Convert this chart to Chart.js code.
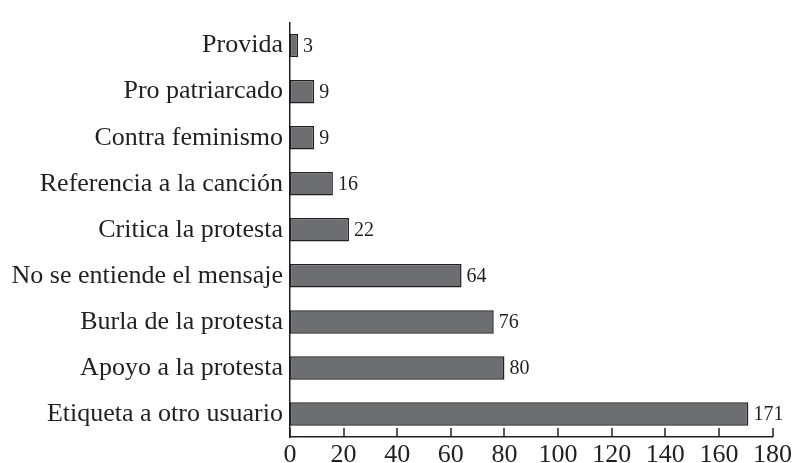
<!DOCTYPE html>
<html>
<head>
<meta charset="utf-8">
<script src="https://cdn.jsdelivr.net/npm/chart.js@4/dist/chart.umd.min.js"></script>
<style>
  html, body { margin: 0; padding: 0; background: #fff; }
  #wrap { width: 797px; height: 463px; }
</style>
</head>
<body>
<div id="wrap"><canvas id="grafico"></canvas></div>
<script>
// Categorías y valores (de arriba hacia abajo)
const categorias = [
  "Provida",
  "Pro patriarcado",
  "Contra feminismo",
  "Referencia a la canción",
  "Critica la protesta",
  "No se entiende el mensaje",
  "Burla de la protesta",
  "Apoyo a la protesta",
  "Etiqueta a otro usuario"
];
const valores = [3, 9, 9, 16, 22, 64, 76, 80, 171];
const ejeMin = 0;
const ejeMax = 180;
const ejePaso = 20;

const negro = "#231f20";
const serif = "'Liberation Serif', 'DejaVu Serif', serif";

// Etiquetas de valor al final de cada barra
const etiquetasValor = {
  id: "etiquetasValor",
  afterDatasetsDraw(chart) {
    const ctx = chart.ctx;
    const meta = chart.getDatasetMeta(0);
    ctx.save();
    ctx.font = "20px " + serif;
    ctx.fillStyle = negro;
    ctx.textAlign = "left";
    ctx.textBaseline = "middle";
    meta.data.forEach((bar, i) => {
      ctx.fillText(String(valores[i]), bar.x + 5, bar.y + 1);
    });
    ctx.restore();
  }
};

// Marcas del eje X hacia adentro
const marcasInternas = {
  id: "marcasInternas",
  afterDraw(chart) {
    const x = chart.scales.x;
    const ctx = chart.ctx;
    const base = chart.chartArea.bottom;
    ctx.save();
    ctx.strokeStyle = negro;
    ctx.lineWidth = 1.5;
    x.ticks.forEach(t => {
      const px = Math.round(x.getPixelForValue(t.value));
      ctx.beginPath();
      ctx.moveTo(px, base);
      ctx.lineTo(px, base - 9);
      ctx.stroke();
    });
    ctx.restore();
  }
};

new Chart(document.getElementById("grafico"), {
  type: "bar",
  data: {
    labels: categorias,
    datasets: [{
      data: valores,
      backgroundColor: "#6d6e71",
      borderColor: negro,
      borderWidth: 1.5,
      borderSkipped: false,
      barPercentage: 0.51,
      categoryPercentage: 1
    }]
  },
  options: {
    indexAxis: "y",
    responsive: true,
    maintainAspectRatio: false,
    animation: false,
    layout: { padding: { top: 12, right: 20, left: 0, bottom: 0 } },
    plugins: {
      legend: { display: false },
      tooltip: { enabled: false }
    },
    scales: {
      x: {
        min: ejeMin,
        max: ejeMax,
        grid: { display: false, drawTicks: false },
        border: { display: true, color: negro, width: 1.5 },
        ticks: {
          stepSize: ejePaso,
          color: negro,
          padding: 5,
          font: { family: serif, size: 26, lineHeight: 1 }
        },
        afterFit(scale) { scale.height = 26; }
      },
      y: {
        grid: { display: false, drawTicks: false },
        border: { display: true, color: negro, width: 1.5 },
        ticks: {
          color: negro,
          padding: 7,
          font: { family: serif, size: 26 }
        },
        afterFit(scale) { scale.width = 290; }
      }
    }
  },
  plugins: [etiquetasValor, marcasInternas]
});
</script>
</body>
</html>
